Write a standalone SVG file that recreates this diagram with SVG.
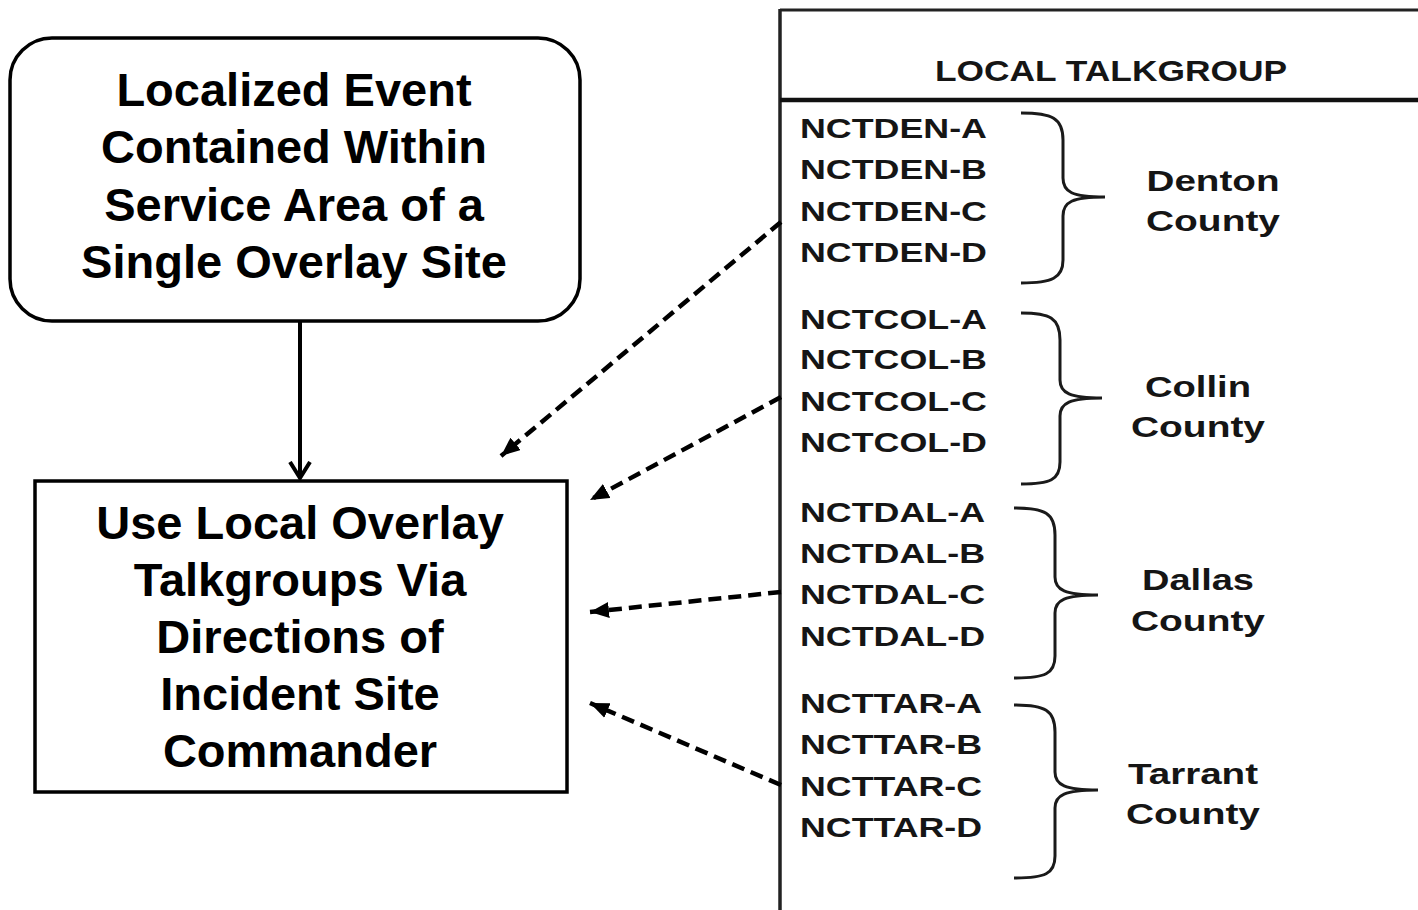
<svg xmlns="http://www.w3.org/2000/svg" width="1418" height="910" viewBox="0 0 1418 910">
  <style>
    .node { fill: #ffffff; stroke: #000000; stroke-width: 3.5; }
    .big { font-family: "Liberation Sans", Arial, sans-serif; font-weight: bold; font-size: 47px; fill: #000000; text-anchor: middle; }
    .tg { font-family: "Liberation Sans", Arial, sans-serif; font-weight: bold; font-size: 28px; fill: #151515; }
    .county { font-family: "Liberation Sans", Arial, sans-serif; font-weight: bold; font-size: 29px; fill: #151515; text-anchor: middle; }
    .hdr { font-family: "Liberation Sans", Arial, sans-serif; font-weight: bold; font-size: 30px; fill: #151515; }
    .brace { fill: none; stroke: #1a1a1a; stroke-width: 3; }
    .dash { fill: none; stroke: #000000; stroke-width: 4.5; stroke-dasharray: 13 7; marker-end: url(#tri); }
    .solid { fill: none; stroke: #000000; stroke-width: 4; marker-end: url(#chev); }
  </style>
  <defs>
    <marker id="tri" markerUnits="userSpaceOnUse" markerWidth="22" markerHeight="18" refX="19" refY="8" orient="auto">
      <path d="M0,0 L19,8 L0,16 z" fill="#000000"/>
    </marker>
    <marker id="chev" markerUnits="userSpaceOnUse" markerWidth="22" markerHeight="26" refX="17" refY="12" orient="auto">
      <path d="M1,2 L17,12 L1,22" fill="none" stroke="#000000" stroke-width="4"/>
    </marker>
  </defs>
  <rect width="1418" height="910" fill="#ffffff"/>

  <g id="event">
    <rect class="node" x="10" y="38" width="570" height="283" rx="42" ry="42"/>
    <text class="big" x="294" y="106">Localized Event</text>
    <text class="big" x="294" y="163">Contained Within</text>
    <text class="big" x="294" y="221">Service Area of a</text>
    <text class="big" x="294" y="278">Single Overlay Site</text>
  </g>

  <g id="use-local">
    <rect class="node" x="35" y="481" width="532" height="311"/>
    <text class="big" x="300" y="539">Use Local Overlay</text>
    <text class="big" x="300" y="596">Talkgroups Via</text>
    <text class="big" x="300" y="653">Directions of</text>
    <text class="big" x="300" y="710">Incident Site</text>
    <text class="big" x="300" y="767">Commander</text>
  </g>

  <g id="talkgroup-table">
    <line x1="780" y1="10" x2="1418" y2="10" stroke="#222" stroke-width="3"/>
    <line x1="780" y1="9" x2="780" y2="910" stroke="#222" stroke-width="3.5"/>
    <line x1="780" y1="100" x2="1418" y2="100" stroke="#111" stroke-width="4.5"/>
    <text class="hdr" x="935" y="81" textLength="352" lengthAdjust="spacingAndGlyphs">LOCAL TALKGROUP</text>

    <g id="denton">
      <text class="tg" x="800" y="138" textLength="187" lengthAdjust="spacingAndGlyphs">NCTDEN-A</text>
      <text class="tg" x="800" y="179" textLength="187" lengthAdjust="spacingAndGlyphs">NCTDEN-B</text>
      <text class="tg" x="800" y="221" textLength="187" lengthAdjust="spacingAndGlyphs">NCTDEN-C</text>
      <text class="tg" x="800" y="262" textLength="187" lengthAdjust="spacingAndGlyphs">NCTDEN-D</text>
      <path class="brace" d="M1021,113 C1052,113 1063,118 1063,140 L1063,178 C1063,192 1072,197 1105,197 C1072,197 1063,202 1063,216 L1063,260 C1063,278 1052,283 1021,283"/>
      <text class="county" x="1213" y="191" textLength="133" lengthAdjust="spacingAndGlyphs">Denton</text>
      <text class="county" x="1213" y="231" textLength="134" lengthAdjust="spacingAndGlyphs">County</text>
    </g>

    <g id="collin">
      <text class="tg" x="800" y="329" textLength="187" lengthAdjust="spacingAndGlyphs">NCTCOL-A</text>
      <text class="tg" x="800" y="369" textLength="187" lengthAdjust="spacingAndGlyphs">NCTCOL-B</text>
      <text class="tg" x="800" y="411" textLength="187" lengthAdjust="spacingAndGlyphs">NCTCOL-C</text>
      <text class="tg" x="800" y="452" textLength="187" lengthAdjust="spacingAndGlyphs">NCTCOL-D</text>
      <path class="brace" d="M1021,313 C1050,313 1060,318 1060,340 L1060,380 C1060,393 1070,398 1102,398 C1070,398 1060,403 1060,416 L1060,462 C1060,480 1050,484 1021,484"/>
      <text class="county" x="1198" y="397" textLength="106" lengthAdjust="spacingAndGlyphs">Collin</text>
      <text class="county" x="1198" y="437" textLength="134" lengthAdjust="spacingAndGlyphs">County</text>
    </g>

    <g id="dallas">
      <text class="tg" x="800" y="522" textLength="185" lengthAdjust="spacingAndGlyphs">NCTDAL-A</text>
      <text class="tg" x="800" y="563" textLength="185" lengthAdjust="spacingAndGlyphs">NCTDAL-B</text>
      <text class="tg" x="800" y="604" textLength="185" lengthAdjust="spacingAndGlyphs">NCTDAL-C</text>
      <text class="tg" x="800" y="646" textLength="185" lengthAdjust="spacingAndGlyphs">NCTDAL-D</text>
      <path class="brace" d="M1014,508 C1045,508 1055,513 1055,535 L1055,577 C1055,590 1065,595 1098,595 C1065,595 1055,600 1055,613 L1055,656 C1055,674 1045,678 1014,678"/>
      <text class="county" x="1198" y="590" textLength="112" lengthAdjust="spacingAndGlyphs">Dallas</text>
      <text class="county" x="1198" y="631" textLength="134" lengthAdjust="spacingAndGlyphs">County</text>
    </g>

    <g id="tarrant">
      <text class="tg" x="800" y="713" textLength="182" lengthAdjust="spacingAndGlyphs">NCTTAR-A</text>
      <text class="tg" x="800" y="754" textLength="182" lengthAdjust="spacingAndGlyphs">NCTTAR-B</text>
      <text class="tg" x="800" y="796" textLength="182" lengthAdjust="spacingAndGlyphs">NCTTAR-C</text>
      <text class="tg" x="800" y="837" textLength="182" lengthAdjust="spacingAndGlyphs">NCTTAR-D</text>
      <path class="brace" d="M1014,705 C1045,705 1055,710 1055,732 L1055,772 C1055,785 1065,790 1098,790 C1065,790 1055,795 1055,808 L1055,856 C1055,874 1045,878 1014,878"/>
      <text class="county" x="1193" y="784" textLength="130" lengthAdjust="spacingAndGlyphs">Tarrant</text>
      <text class="county" x="1193" y="824" textLength="134" lengthAdjust="spacingAndGlyphs">County</text>
    </g>
  </g>

  <g id="connectors">
    <line class="solid" x1="300" y1="322" x2="300" y2="478"/>
    <line class="dash" x1="781" y1="222" x2="501" y2="456"/>
    <line class="dash" x1="781" y1="397" x2="590" y2="500"/>
    <line class="dash" x1="781" y1="592" x2="590" y2="612"/>
    <line class="dash" x1="781" y1="785" x2="590" y2="703"/>
  </g>
</svg>
